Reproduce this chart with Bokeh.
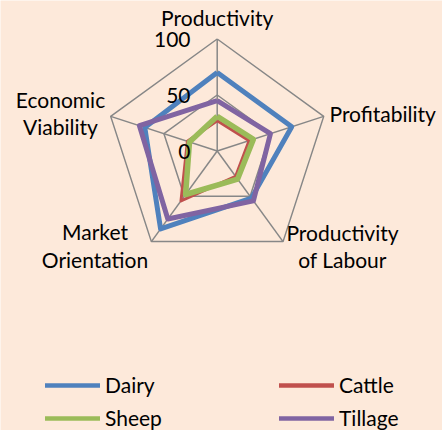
import numpy as np
from bokeh.plotting import figure
from bokeh.models import Range1d, Legend, LegendItem
from bokeh.core.properties import value
from bokeh.embed import file_html
from bokeh.resources import INLINE

# ---------------- data ----------------
categories = ["Productivity", "Profitability", "Productivity of Labour",
              "Market Orientation", "Economic Viability"]
category_lines = [["Productivity"], ["Profitability"], ["Productivity", "of Labour"],
                  ["Market", "Orientation"], ["Economic", "Viability"]]
dairy = [70, 70, 52, 86, 68]
cattle = [27, 30, 28, 55, 28]
sheep = [31, 34, 31, 48, 26]
tillage = [45, 50, 55, 75, 73]
series_names = ["Dairy", "Cattle", "Sheep", "Tillage"]
tick_values = [0, 50, 100]
tick_labels = ["0", "50", "100"]

# ---------------- style ----------------
W, H = 442, 430
BG = "#FDE9DA"
GRID = "#878787"
COLORS = {"Dairy": "#4F81BD", "Cattle": "#C0504D", "Sheep": "#9BBB59", "Tillage": "#8064A2"}
WIDTHS = {"Dairy": 5, "Cattle": 3, "Sheep": 5.5, "Tillage": 5}
FONT = "Lato"
FS = "21px"
PX = 1.12             # pixels per value unit
CX, CY = 216.7, 150.5  # centre of web in canvas pixels

p = figure(width=W, height=H, output_backend="svg", toolbar_location=None,
           x_range=Range1d(-CX / PX, (W - CX) / PX),
           y_range=Range1d(-(H - CY) / PX, CY / PX),
           min_border=0, background_fill_color=BG, border_fill_color=BG,
           outline_line_color=None)
p.axis.visible = False
p.grid.visible = False

n = len(categories)
theta = np.pi / 2 - 2 * np.pi * np.arange(n) / n


def polar(vals):
    v = np.asarray(vals, dtype=float)
    xs = v * np.cos(theta)
    ys = v * np.sin(theta)
    return list(xs) + [xs[0]], list(ys) + [ys[0]]


# grid rings and spokes
for tv in tick_values[1:]:
    gx, gy = polar([tv] * n)
    p.line(gx, gy, line_color=GRID, line_width=1.5)
mx = tick_values[-1]
p.segment(x0=[0] * n, y0=[0] * n, x1=list(mx * np.cos(theta)), y1=list(mx * np.sin(theta)),
          line_color=GRID, line_width=1.5)

# series
data = {"Dairy": dairy, "Cattle": cattle, "Sheep": sheep, "Tillage": tillage}
for name in series_names:
    sx, sy = polar(data[name])
    p.line(sx, sy, line_color=COLORS[name], line_width=WIDTHS[name], line_join="round")

# tick labels
p.text(x=[-26.7 / PX] * len(tick_values), y=[tv for tv in tick_values],
       text=tick_labels, text_align="right", text_baseline="middle",
       text_font=value(FONT), text_font_size=FS, text_color="#000000")

# category labels (offsets from centre in pixels)
label_offsets = [[(0, -133.5)], [(112.3, -37.5)], [(125.3, 81.5), (125.3, 108.5)],
                 [(-122.2, 80.5), (-122.2, 108.5)], [(-156.7, -51.5), (-156.7, -24.5)]]
label_align = ["center", "left", "center", "center", "center"]
for lines, offs, al in zip(category_lines, label_offsets, label_align):
    p.text(x=[o[0] / PX for o in offs], y=[-o[1] / PX for o in offs], text=lines,
           text_align=al, text_baseline="middle", text_font=value(FONT),
           text_font_size=FS, text_color="#000000")

# legend keys: off-screen stand-ins so all keys share one width
dummies = {}
for name in series_names:
    dummies[name] = p.line(x=[1000, 1001], y=[1000, 1000], line_color=COLORS[name],
                           line_width=4.5, line_cap="round")


def make_legend(names, loc):
    lg = Legend(items=[LegendItem(label=nm, renderers=[dummies[nm]]) for nm in names],
                location=loc, orientation="vertical", padding=0, margin=0,
                spacing=8, glyph_width=55, glyph_height=20, label_height=20,
                label_standoff=5, label_text_font=FONT, label_text_font_size=FS,
                label_text_color="#000000", border_line_color=None,
                background_fill_alpha=0)
    return lg


p.add_layout(make_legend(["Dairy", "Sheep"], (45, 0)), "center")
p.add_layout(make_legend(["Cattle", "Tillage"], (279, 0)), "center")

open("out.html", "w").write(file_html(p, INLINE))
